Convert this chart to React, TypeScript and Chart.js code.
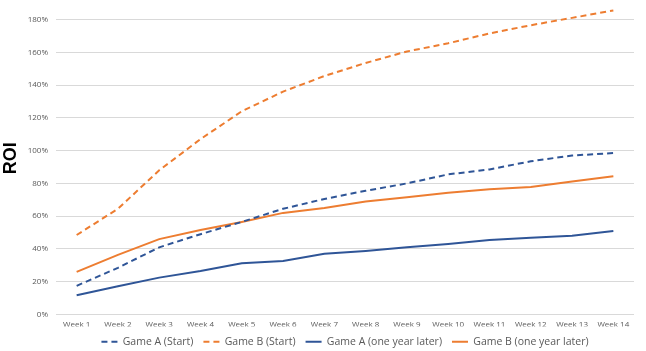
import React, { useEffect, useRef } from "react";
import { Chart, registerables } from "chart.js";

Chart.register(...registerables);

const weeks = [
  "Week 1", "Week 2", "Week 3", "Week 4", "Week 5", "Week 6", "Week 7",
  "Week 8", "Week 9", "Week 10", "Week 11", "Week 12", "Week 13", "Week 14",
];
const gameAStart = [17.5, 28.5, 41, 49, 56.5, 64.5, 70.5, 75.5, 80, 85.5, 88.5, 93.5, 97, 98.5];
const gameBStart = [48.5, 64.5, 88, 107, 124, 136, 145.5, 153.5, 160.5, 165.5, 171.5, 176.5, 181, 185.5];
const gameALater = [11.7, 17.2, 22.5, 26.5, 31.3, 32.7, 37, 38.8, 41, 43, 45.4, 46.9, 48.1, 51];
const gameBLater = [26, 36.4, 46, 51.5, 56.5, 62, 65, 69, 71.5, 74.3, 76.4, 77.8, 81.2, 84.4];
const seriesNames = ["Game A (Start)", "Game B (Start)", "Game A (one year later)", "Game B (one year later)"];
const yTitle = "ROI";

const BLUE = "#2F5597";
const ORANGE = "#ED7D31";
const GREY = "#595959";
const SHIFT = 11;
const CANVAS_H = 368;

export default function App() {
  const canvasRef = useRef<HTMLCanvasElement | null>(null);

  useEffect(() => {
    document.body.style.margin = "0";
    const canvas = canvasRef.current;
    if (!canvas) return;
    const mk = (label: string, data: number[], color: string, dashed: boolean) => ({
      label,
      data,
      borderColor: color,
      backgroundColor: color,
      borderWidth: 2,
      borderDash: dashed ? [6, 4] : [],
      pointRadius: 0,
      pointHoverRadius: 0,
      tension: 0,
      fill: false,
    });
    const chart = new Chart(canvas, {
      type: "line",
      data: {
        labels: weeks,
        datasets: [
          mk(seriesNames[0], gameAStart, BLUE, true),
          mk(seriesNames[1], gameBStart, ORANGE, true),
          mk(seriesNames[2], gameALater, BLUE, false),
          mk(seriesNames[3], gameBLater, ORANGE, false),
        ],
      },
      options: {
        responsive: false,
        animation: false,
        devicePixelRatio: 1,
        layout: { padding: { left: 0, right: 12, top: 0, bottom: 0 } },
        plugins: {
          tooltip: { enabled: false },
          legend: {
            position: "bottom",
            fullSize: false,
            labels: {
              usePointStyle: true,
              pointStyle: "line",
              pointStyleWidth: 16,
              boxHeight: 10,
              padding: 10,
              color: GREY,
              font: { family: "'Open Sans', sans-serif", size: 10.5 },
              generateLabels: (c: any) => {
                const items = Chart.defaults.plugins.legend.labels.generateLabels(c);
                items.forEach((it: any) => {
                  const ds: any = c.data.datasets[it.datasetIndex];
                  it.lineDash = ds.borderDash;
                  it.lineWidth = 2;
                  it.strokeStyle = ds.borderColor;
                  it.fillStyle = ds.borderColor;
                });
                return items;
              },
            },
          },
        },
        scales: {
          x: {
            offset: true,
            grid: { display: false, drawTicks: false },
            border: { display: false },
            afterFit: (s: any) => {
              s.height = 12;
            },
            ticks: {
              color: GREY,
              padding: 5,
              maxRotation: 0,
              autoSkip: false,
              font: { family: "'Open Sans', sans-serif", size: 8 },
            },
          },
          y: {
            min: 0,
            max: 190.8,
            grid: { color: "#D9D9D9", lineWidth: 1, drawTicks: false },
            border: { display: false },
            afterFit: (s: any) => {
              s.width = 56;
            },
            ticks: {
              stepSize: 20,
              includeBounds: false,
              color: GREY,
              padding: 8,
              font: { family: "'Open Sans', sans-serif", size: 8 },
              callback: (v: any) => v + "%",
            },
            title: {
              display: true,
              text: yTitle,
              color: "#000000",
              padding: { top: 0, bottom: 4 },
              font: { family: "'Liberation Sans', Arial, sans-serif", size: 18, weight: "bold" },
            },
          },
        },
      },
    });
    return () => chart.destroy();
  }, []);

  return (
    <div style={{ position: "relative", width: 646, height: 351, overflow: "hidden", background: "#fff" }}>
      <canvas
        ref={canvasRef}
        width={646}
        height={CANVAS_H}
        style={{ position: "absolute", left: 0, top: -SHIFT, width: 646, height: CANVAS_H }}
      />
    </div>
  );
}
